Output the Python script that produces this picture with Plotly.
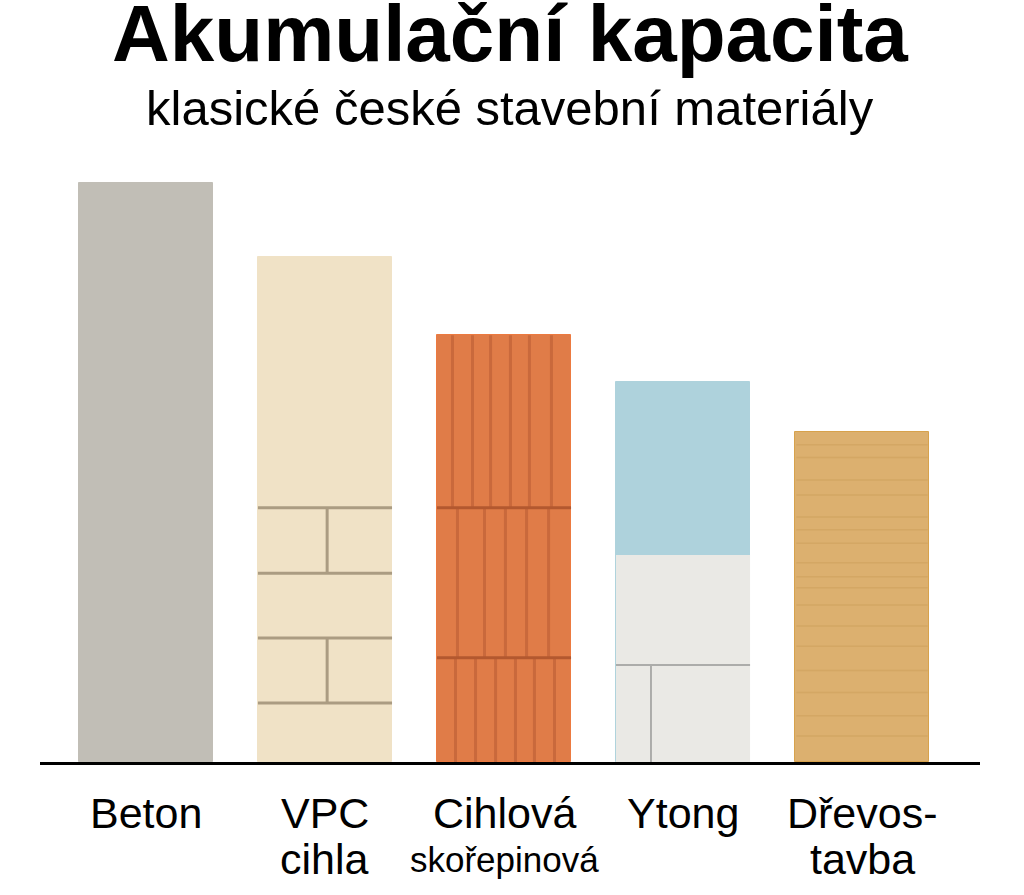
import plotly.graph_objects as go

# ---- data ----
categories = ["Beton", "VPC cihla", "Cihlová skořepinová", "Ytong", "Dřevostavba"]
label_line1 = ["Beton", "VPC", "Cihlová", "Ytong", "Dřevos-"]
label_line2 = ["", "cihla", "skořepinová", "", "tavba"]
capacity = [100, 87.2, 73.7, 65.6, 57.0]          # relative accumulation capacity
bar_colors = ["#c1beb6", "#f0e2c6", "#e07c48", "#aed2dc", "#dcb06f"]
bar_edges = ["#c1beb6", "#f0e2c6", "#ec7a40", "#aed2dc", "#d7a24c"]

title = "Akumulační kapacita"
subtitle = "klasické české stavební materiály"

# ---- texture decoration (data units) ----
vpc_courses = [10.2, 21.4, 32.6, 43.9]
vpc_joints = [(10.2, 21.4), (32.6, 43.9)]
cihla_courses = [18.0, 43.9]
cihla_slots = {
    (43.9, None): [-0.288, -0.176, -0.075, 0.036, 0.142, 0.265],
    (18.0, 43.9): [-0.260, -0.109, 0.008, 0.126, 0.249],
    (0.0, 18.0): [-0.271, -0.159, -0.047, 0.064, 0.170, 0.282],
}
ytong_block_top = 35.75
ytong_course = 16.75
ytong_joint = -0.179
wood_grain = [57.0 - d for d in [2.2, 4.4, 8.3, 10.9, 14.7, 16.9, 19.2, 22.6, 25.0, 26.9, 29.9,
                                  33.5, 37.0, 41.2, 45.0, 49.0, 52.5]]

BW = 0.749
x = list(range(len(categories)))

fig = go.Figure()
fig.add_trace(go.Bar(
    x=x, y=capacity, width=BW,
    marker=dict(color=bar_colors, line=dict(color=bar_edges, width=1)),
    hoverinfo="skip", showlegend=False,
))

shapes = []
def hline(xc, y, color, w, x0f=-0.5, x1f=0.5):
    shapes.append(dict(type="line", xref="x", yref="y", x0=xc + x0f * BW, x1=xc + x1f * BW,
                       y0=y, y1=y, line=dict(color=color, width=w), layer="above"))
def vline(xv, y0, y1, color, w):
    shapes.append(dict(type="line", xref="x", yref="y", x0=xv, x1=xv,
                       y0=y0, y1=y1, line=dict(color=color, width=w), layer="above"))

# VPC brick
for y in vpc_courses:
    hline(x[1], y, "#ab9c82", 3)
for (a, b) in vpc_joints:
    vline(x[1] + 0.012, a, b, "#ab9c82", 3)

# Cihlová skořepinová
for (a, b), offs in cihla_slots.items():
    top = capacity[2] if b is None else b
    for o in offs:
        vline(x[2] + o, a, top, "#c9693c", 3)
for y in cihla_courses:
    hline(x[2], y, "#b3582f", 3)

# Ytong lower block
shapes.append(dict(type="rect", xref="x", yref="y", x0=x[3] - BW / 2, x1=x[3] + BW / 2,
                   y0=0, y1=ytong_block_top, fillcolor="#eae9e5", line=dict(width=0), layer="above"))
hline(x[3], ytong_course, "#acacaa", 2)
vline(x[3] + ytong_joint, 0, ytong_course, "#acacaa", 2)

# wood grain
for y in wood_grain:
    hline(x[4], y, "rgba(185,135,65,0.22)", 1.5, -0.49, 0.49)

W, Hh = 1024, 895
PLOT_TOP, PLOT_BOT = 170, 762
H = PLOT_BOT - PLOT_TOP
def py(p):
    return (PLOT_BOT - p) / H

ann = []
ann.append(dict(text="<b>" + title + "</b>", x=0.5, xref="paper", y=py(34), yref="paper",
                yanchor="middle", xanchor="center", showarrow=False,
                font=dict(family="Liberation Sans", size=80, color="#000000")))
ann.append(dict(text=subtitle, x=0.5, xref="paper", y=py(108), yref="paper", yanchor="middle",
                xanchor="center", showarrow=False,
                font=dict(family="Liberation Sans", size=49, color="#000000")))
for i in x:
    ann.append(dict(text=label_line1[i], x=i, xref="x", y=py(813), yref="paper", yanchor="middle",
                    showarrow=False, font=dict(family="Liberation Sans", size=43, color="#000000")))
    if label_line2[i]:
        size = 35 if len(label_line2[i]) > 8 else 43
        ann.append(dict(text=label_line2[i], x=i, xref="x", y=py(859), yref="paper", yanchor="middle",
                        showarrow=False, font=dict(family="Liberation Sans", size=size, color="#000000")))

fig.update_layout(
    width=W, height=Hh,
    margin=dict(l=40, r=W - 980, t=PLOT_TOP, b=Hh - PLOT_BOT),
    paper_bgcolor="#ffffff", plot_bgcolor="#ffffff",
    xaxis=dict(range=[-0.592, 4.659], showticklabels=False, ticks="", showgrid=False,
               zeroline=False, showline=True, linecolor="#000000", linewidth=3, fixedrange=True),
    yaxis=dict(range=[0, 102.245], visible=False, showgrid=False, zeroline=False, fixedrange=True),
    shapes=shapes, annotations=ann, bargap=0,
)

fig.write_html("out.html", config={"displayModeBar": False},
               post_script="document.body.style.margin='0';document.documentElement.style.overflow='hidden';")
